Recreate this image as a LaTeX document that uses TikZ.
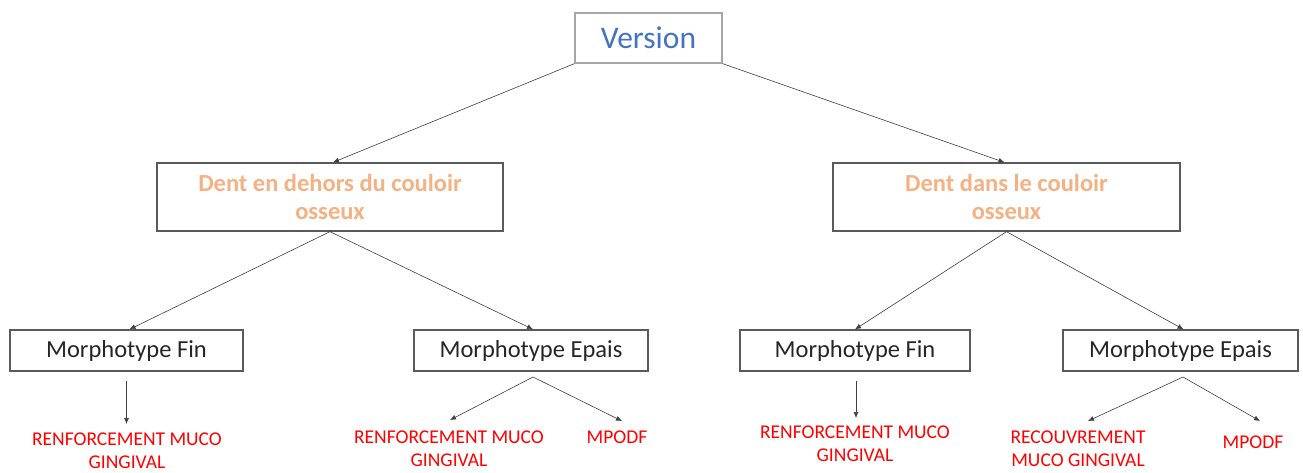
\documentclass[tikz,border=0pt]{standalone}
\usepackage{fontspec}
\setmainfont{Carlito}
\usetikzlibrary{arrows.meta}
\definecolor{vblue}{HTML}{4472C4}
\definecolor{orng}{HTML}{F4B183}
\definecolor{rred}{HTML}{FF0000}
\definecolor{boxline}{HTML}{5A5A5A}
\begin{document}
\begin{tikzpicture}[x=1pt,y=-1pt,
  box/.style={draw=boxline, line width=1.3pt, rectangle, inner sep=0pt, align=center},
  vbox/.style={draw=black!35, line width=1.3pt, rectangle, inner sep=0pt, text=vblue,
    font=\fontsize{31.5}{36}\selectfont},
  lvl2/.style={box, text=orng, font=\bfseries\fontsize{24.5}{28}\selectfont},
  lvl3/.style={box, text=black!85, font=\fontsize{24.5}{27}\selectfont},
  leaf/.style={text=rred, align=center, inner sep=0pt, font=\fontsize{19.5}{23}\selectfont},
  arr/.style={-{Latex[length=6pt,width=5pt]}, draw=black!75, line width=0.6pt}]
\useasboundingbox (0,0) rectangle (1303,472);
\fill[white] (0,0) rectangle (1303,472);

\node[vbox, minimum width=147pt, minimum height=50pt] (v) at (648.5,38) {Version};

\node[lvl2, minimum width=346pt, minimum height=68pt] (a) at (330,197) {Dent en dehors du couloir\\osseux};
\node[lvl2, minimum width=347pt, minimum height=68pt] (b) at (1006.5,197) {Dent dans le couloir\\osseux};

\node[lvl3, minimum width=233pt, minimum height=41pt] (a1) at (126.5,350.5) {Morphotype Fin};
\node[lvl3, minimum width=234pt, minimum height=41pt] (a2) at (531,350.5) {Morphotype Epais};
\node[lvl3, minimum width=230pt, minimum height=41pt] (b1) at (855,350.5) {Morphotype Fin};
\node[lvl3, minimum width=235pt, minimum height=41pt] (b2) at (1180.5,350.5) {Morphotype Epais};

\node[leaf, anchor=north] (a1x) at (127,433) {RENFORCEMENT MUCO\\GINGIVAL};
\node[leaf, anchor=north] (a2x) at (449,431) {RENFORCEMENT MUCO\\GINGIVAL};
\node[leaf, anchor=north] (a2y) at (617,431) {MPODF};
\node[leaf, anchor=north] (b1x) at (855,426) {RENFORCEMENT MUCO\\GINGIVAL};
\node[leaf, anchor=north] (b2x) at (1078,431) {RECOUVREMENT\\MUCO GINGIVAL};
\node[leaf, anchor=north] (b2y) at (1253,436) {MPODF};

\coordinate (ta1) at (126.5,381);
\coordinate (ta2) at (533,377);
\coordinate (tb1) at (856,381);
\coordinate (tb2) at (1183,377);
\coordinate (ea1) at (126.5,424);
\coordinate (ea2x) at (450,420);
\coordinate (ea2y) at (622,421);
\coordinate (eb1) at (856,418);
\coordinate (eb2x) at (1088,421);
\coordinate (eb2y) at (1260,421);

\draw[arr] (v.south west) -- ([xshift=3pt]a.north);
\draw[arr] (v.south east) -- ([xshift=-2pt]b.north);
\draw[arr] (a.south) -- ([xshift=3pt]a1.north);
\draw[arr] (a.south) -- ([xshift=2pt]a2.north);
\draw[arr] (b.south) -- (b1.north);
\draw[arr] (b.south) -- ([xshift=3pt]b2.north);
\draw[arr] (ta1) -- (ea1);
\draw[arr] (ta2) -- (ea2x);
\draw[arr] (ta2) -- (ea2y);
\draw[arr] (tb1) -- (eb1);
\draw[arr] (tb2) -- (eb2x);
\draw[arr] (tb2) -- (eb2y);
\end{tikzpicture}
\end{document}
